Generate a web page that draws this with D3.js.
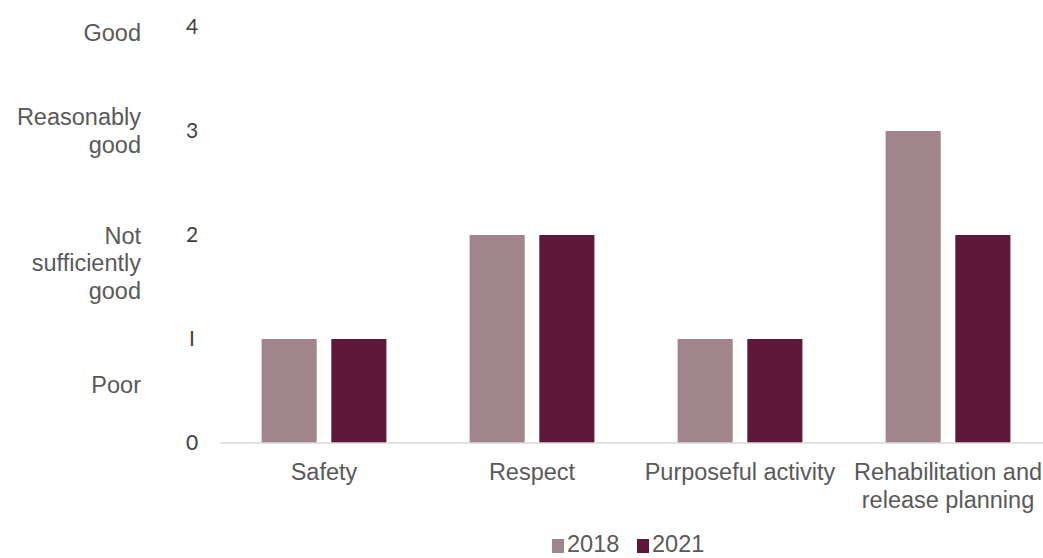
<!DOCTYPE html>
<html>
<head>
<meta charset="utf-8">
<script src="https://cdn.jsdelivr.net/npm/d3@7"></script>
<style>
  body { margin: 0; background: #fff; }
  text { font-family: "Liberation Sans", Arial, sans-serif; fill: #595959; }
</style>
</head>
<body>
<div id="chart"></div>
<script>
    const categories = [['Safety'], ['Respect'], ['Purposeful activity'], ['Rehabilitation and', 'release planning']];
    const years = ['2018', '2021'];
    const values2018 = [1, 2, 1, 3];
    const values2021 = [1, 2, 1, 2];
    const yTicks = [0, 1, 2, 3, 4];
    const ratingLabels = [
      { lines: ['Good'], at: 3.94 },
      { lines: ['Reasonably', 'good'], at: 3.0 },
      { lines: ['Not', 'sufficiently', 'good'], at: 1.73 },
      { lines: ['Poor'], at: 0.56 }
    ];
    const colors = ['#a0868c', '#5e1739'];

    const svgWidth = 1043, svgHeight = 558;
    const svg = d3.select('#chart').append('svg')
        .attr('width', svgWidth)
        .attr('height', svgHeight);

    const xScale = d3.scaleBand()
        .domain(categories.map(d => d.join(' ')))
        .range([220, 1052]);

    const yScale = d3.scaleLinear()
        .domain([0, 4])
        .range([443, 27]);

    const bw = xScale.bandwidth();
    const inner = d3.scaleBand()
        .domain(years)
        .range([bw * 0.2, bw * 0.8])
        .paddingInner(0.21);

    const rows = categories.map((c, i) => ({ key: c.join(' '), vals: [values2018[i], values2021[i]] }));

    const groups = svg.selectAll('.grp')
        .data(rows)
        .enter().append('g')
        .attr('transform', d => `translate(${xScale(d.key)},0)`);

    groups.selectAll('rect')
        .data(d => d.vals.map((v, j) => ({ year: years[j], v: v, j: j })))
        .enter().append('rect')
        .attr('x', d => inner(d.year))
        .attr('width', inner.bandwidth())
        .attr('y', d => yScale(d.v))
        .attr('height', d => yScale(0) - yScale(d.v))
        .attr('fill', d => colors[d.j]);

    // baseline
    svg.append('line')
        .attr('x1', 220).attr('x2', svgWidth)
        .attr('y1', yScale(0)).attr('y2', yScale(0))
        .attr('stroke', '#d9d9d9').attr('stroke-width', 1.5);

    // numeric y ticks
    svg.selectAll('.ytick')
        .data(yTicks)
        .enter().append('text')
        .attr('x', 192)
        .attr('y', d => yScale(d))
        .attr('dy', '0.35em')
        .attr('text-anchor', 'middle')
        .style('font-family', '"Lato", sans-serif')
        .style('font-size', '21px')
        .style('fill', '#404040')
        .text(d => d === 1 ? 'I' : d);

    // rating labels
    ratingLabels.forEach(r => {
      const n = r.lines.length;
      const t = svg.append('text')
          .attr('text-anchor', 'end')
          .style('font-size', '23.5px');
      r.lines.forEach((line, k) => {
        t.append('tspan')
          .attr('x', 141)
          .attr('y', yScale(r.at) + (k - (n - 1) / 2) * 27.5)
          .attr('dy', '0.35em')
          .text(line);
      });
    });

    // category labels
    categories.forEach(c => {
      const t = svg.append('text')
          .attr('text-anchor', 'middle')
          .style('font-size', '23.5px');
      c.forEach((line, k) => {
        t.append('tspan')
          .attr('x', xScale(c.join(' ')) + bw / 2)
          .attr('y', 472 + k * 27.5)
          .attr('dy', '0.35em')
          .text(line);
      });
    });

    // legend
    const legendX = [552, 637];
    years.forEach((y, i) => {
      svg.append('rect')
        .attr('x', legendX[i]).attr('y', 539)
        .attr('width', 12).attr('height', 14)
        .attr('fill', colors[i]);
      svg.append('text')
        .attr('x', legendX[i] + 15).attr('y', 552)
        .style('font-size', '23.5px')
        .text(y);
    });
</script>
</body>
</html>
